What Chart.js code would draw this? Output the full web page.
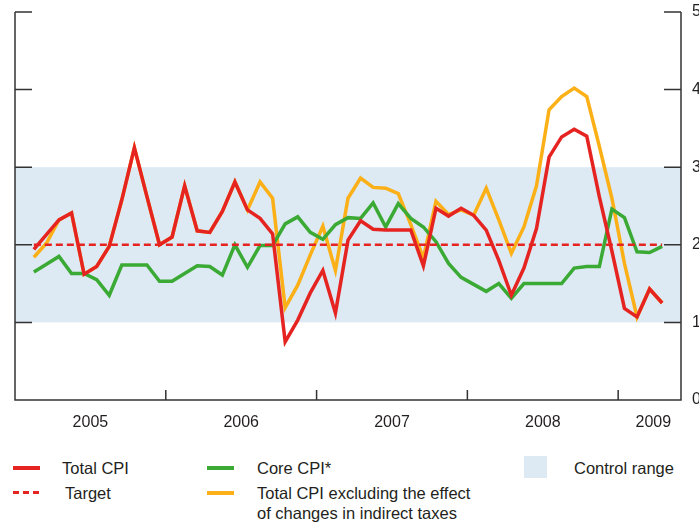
<!DOCTYPE html>
<html>
<head>
<meta charset="utf-8">
<script src="https://cdn.jsdelivr.net/npm/chart.js@4.4.0/dist/chart.umd.min.js"></script>
<style>
body { margin: 0; background: #fff; font-family: "Liberation Sans", Arial, sans-serif; color: #231f20; }
#wrap { position: relative; width: 699px; height: 525px; overflow: hidden; }
#chart { position: absolute; left: 0; top: 0; }
.lg { position: absolute; font-size: 16.5px; line-height: 20px; white-space: nowrap; }
.sw { position: absolute; height: 4px; }
</style>
</head>
<body>
<div id="wrap">
  <canvas id="chart" width="699" height="440"></canvas>

  <div class="sw" style="left:13px;top:466px;width:27px;background:#e52421"></div>
  <div class="lg" style="left:62px;top:458px">Total CPI</div>
  <div class="sw" style="left:13px;top:491px;width:27px;height:3px;background:repeating-linear-gradient(90deg,#e52421 0 6px,transparent 6px 10px)"></div>
  <div class="lg" style="left:65px;top:483px">Target</div>

  <div class="sw" style="left:207px;top:466px;width:27px;background:#3aaa35"></div>
  <div class="lg" style="left:257px;top:458px">Core CPI*</div>
  <div class="sw" style="left:207px;top:491px;width:27px;background:#fbb017"></div>
  <div class="lg" style="left:257px;top:483px">Total CPI excluding the effect</div>
  <div class="lg" style="left:257px;top:503px">of changes in indirect taxes</div>

  <div class="sw" style="left:524px;top:456px;width:23px;height:22px;background:#dde9f3"></div>
  <div class="lg" style="left:574px;top:458px">Control range</div>
</div>
<script>
// months Feb 2005 .. Apr 2009
var months = [];
for (var yr = 2005; yr <= 2009; yr++) {
  for (var mo = 1; mo <= 12; mo++) {
    if ((yr == 2005 && mo < 2) || (yr == 2009 && mo > 4)) continue;
    months.push(yr + "-" + (mo < 10 ? "0" : "") + mo);
  }
}

var totalCPI = [
  1.94, 2.13, 2.32, 2.41, 1.62, 1.72, 1.98, 2.58, 3.25, 2.62, 2.00,
  2.10, 2.76, 2.18, 2.16, 2.43, 2.81, 2.45, 2.34, 2.14, 0.75, 1.03, 1.38,
  1.67, 1.12, 2.06, 2.31, 2.20, 2.19, 2.19, 2.19, 1.73, 2.47, 2.37, 2.47,
  2.38, 2.19, 1.80, 1.35, 1.70, 2.21, 3.13, 3.39, 3.49, 3.40, 2.62, 1.92,
  1.18, 1.07, 1.43, 1.25
];
var coreCPI = [
  1.65, 1.75, 1.85, 1.63, 1.63, 1.55, 1.35, 1.74, 1.74, 1.74, 1.53,
  1.53, 1.63, 1.73, 1.72, 1.61, 2.00, 1.71, 1.99, 1.99, 2.27, 2.36, 2.16,
  2.07, 2.26, 2.35, 2.34, 2.54, 2.23, 2.53, 2.34, 2.23, 2.04, 1.76, 1.58,
  1.49, 1.40, 1.50, 1.31, 1.50, 1.50, 1.50, 1.50, 1.70, 1.72, 1.72, 2.46,
  2.35, 1.91, 1.90, 1.98
];
var cpiExTax = [
  1.84, 2.02, 2.32, 2.41, 1.62, 1.72, 1.98, 2.58, 3.25, 2.62, 2.00,
  2.10, 2.76, 2.18, 2.16, 2.43, 2.81, 2.45, 2.81, 2.60, 1.19, 1.48, 1.87,
  2.24, 1.67, 2.60, 2.86, 2.74, 2.73, 2.66, 2.26, 1.83, 2.56, 2.39, 2.45,
  2.38, 2.73, 2.32, 1.89, 2.23, 2.76, 3.74, 3.91, 4.02, 3.91, 3.27, 2.60,
  1.76, 1.07, 1.43, 1.25
];
var targetValue = 2;
var controlRange = [1, 3];

var yTicks = [0, 1, 2, 3, 4, 5];
var yearLabels = ["2005", "2006", "2007", "2008", "2009"];
var yearLabelPos = [6, 18, 30, 42, 50.8];   // months from Jan 2005
var yearBounds = [12, 24, 36, 48];

function monthPos(m) {
  var p = m.split("-");
  return (p[0] - 2005) * 12 + (p[1] - 1) + 0.5;
}
function series(vals) {
  return months.map(function (m, i) { return { x: monthPos(m), y: vals[i] }; });
}

var frame = {
  id: "frame",
  beforeDatasetsDraw: function (chart) {
    var ctx = chart.ctx, a = chart.chartArea, y = chart.scales.y;
    var top = y.getPixelForValue(controlRange[1]);
    var bot = y.getPixelForValue(controlRange[0]);
    ctx.save();
    ctx.fillStyle = "#dde9f3";
    ctx.fillRect(a.left, top, a.right - a.left, bot - top);
    ctx.restore();
  },
  afterDatasetsDraw: function (chart) {
    var ctx = chart.ctx, a = chart.chartArea, x = chart.scales.x, y = chart.scales.y;
    ctx.save();
    ctx.strokeStyle = "#333";
    ctx.lineWidth = 1.5;
    ctx.beginPath();
    ctx.moveTo(a.left, a.top); ctx.lineTo(a.left, a.bottom);
    ctx.lineTo(a.right, a.bottom); ctx.lineTo(a.right, a.top);
    yTicks.forEach(function (v) {
      var py = y.getPixelForValue(v);
      ctx.moveTo(a.left, py); ctx.lineTo(a.left + 17, py);
      ctx.moveTo(a.right, py); ctx.lineTo(a.right - 17, py);
    });
    yearBounds.forEach(function (v) {
      var px = x.getPixelForValue(v);
      ctx.moveTo(px, a.bottom); ctx.lineTo(px, a.bottom - 10);
    });
    ctx.stroke();
    ctx.restore();
  }
};

var first = months[0], last = months[months.length - 1];

new Chart(document.getElementById("chart"), {
  type: "line",
  data: {
    datasets: [
      { label: "Total CPI", data: series(totalCPI), borderColor: "#e52421", borderWidth: 3.5 },
      { label: "Target", data: [{ x: monthPos(first), y: targetValue }, { x: monthPos(last), y: targetValue }],
        borderColor: "#e52421", borderWidth: 2.5, borderDash: [7, 4] },
      { label: "Core CPI*", data: series(coreCPI), borderColor: "#3aaa35", borderWidth: 3.5 },
      { label: "Total CPI excluding the effect of changes in indirect taxes", data: series(cpiExTax),
        borderColor: "#fbb017", borderWidth: 3.5 }
    ]
  },
  options: {
    responsive: false,
    animation: false,
    layout: { padding: { left: 15, top: 12, right: 0, bottom: 0 } },
    elements: { point: { radius: 0 }, line: { tension: 0, fill: false } },
    plugins: { legend: { display: false }, tooltip: { enabled: false } },
    scales: {
      x: {
        type: "linear", min: 0, max: 53,
        grid: { display: false, drawTicks: false }, border: { display: false },
        afterBuildTicks: function (s) { s.ticks = yearLabelPos.map(function (v) { return { value: v }; }); },
        afterFit: function (s) { s.height = 40; s.paddingLeft = 0; s.paddingRight = 0; },
        ticks: {
          autoSkip: false, maxRotation: 0, padding: 13, color: "#231f20",
          font: { size: 16, family: "Liberation Sans" },
          callback: function (v, i) { return yearLabels[i]; }
        }
      },
      y: {
        position: "right", min: 0, max: 5,
        grid: { display: false, drawTicks: false }, border: { display: false },
        afterFit: function (s) { s.width = 18; s.paddingTop = 0; s.paddingBottom = 0; },
        ticks: { stepSize: 1, padding: 11, color: "#231f20", font: { size: 16, family: "Liberation Sans" } }
      }
    }
  },
  plugins: [frame]
});
</script>
</body>
</html>
